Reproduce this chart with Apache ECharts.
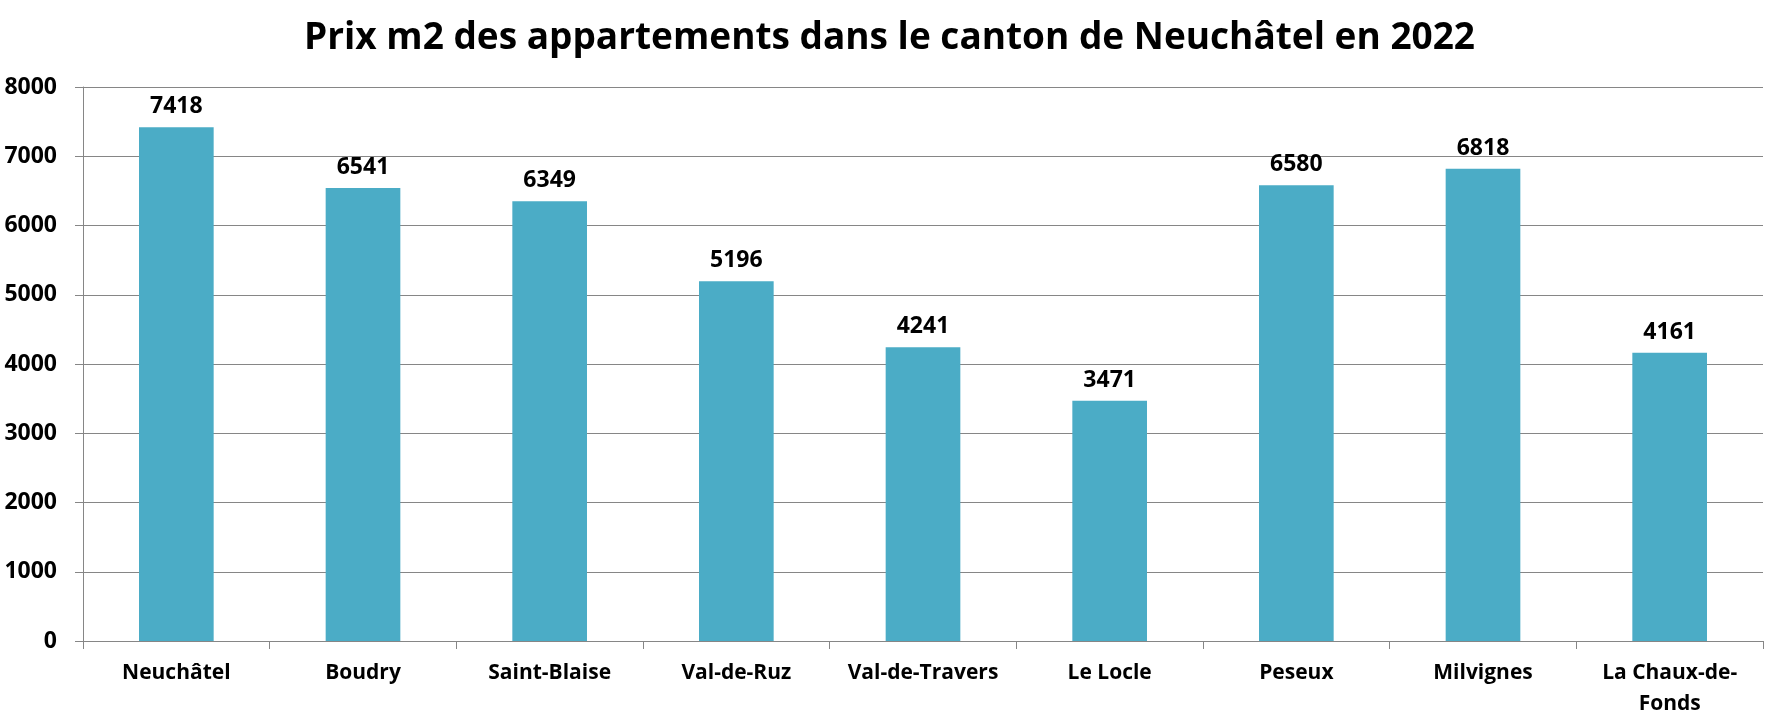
<!DOCTYPE html>
<html><head><meta charset="utf-8">
<script src="https://cdn.jsdelivr.net/npm/echarts@6/dist/echarts.min.js"></script>
<style>html,body{margin:0;padding:0;background:#fff}#c{width:1779px;height:727px}</style>
</head><body><div id="c"></div>
<script>
const titleText = "Prix m2 des appartements dans le canton de Neuchâtel en 2022";
const categories = ["Neuchâtel","Boudry","Saint-Blaise","Val-de-Ruz","Val-de-Travers","Le Locle","Peseux","Milvignes","La Chaux-de-\nFonds"];
const prices = [7418,6541,6349,5196,4241,3471,6580,6818,4161];
const yTicks = [0,1000,2000,3000,4000,5000,6000,7000,8000];

const chart = echarts.init(document.getElementById('c'), null, {renderer:'canvas'});
chart.setOption({
  animation:false,
  backgroundColor:'#ffffff',
  title:{text:titleText,left:'center',top:15,textStyle:{fontFamily:'Open Sans',fontWeight:700,fontSize:37,color:'#000'}},
  grid:{left:83,right:16,top:87,bottom:86,containLabel:false},
  xAxis:{type:'category',data:categories,
    axisLine:{lineStyle:{color:'#868686',width:1}},
    axisTick:{show:true,length:8,alignWithLabel:false,lineStyle:{color:'#868686'}},
    axisLabel:{interval:0,margin:17,fontFamily:'Open Sans',fontWeight:700,fontSize:21,lineHeight:31,color:'#000'}},
  yAxis:{type:'value',min:yTicks[0],max:yTicks[yTicks.length-1],interval:1000,
    axisLine:{show:true,lineStyle:{color:'#868686'}},
    axisTick:{show:true,length:8,lineStyle:{color:'#868686'}},
    splitLine:{show:true,lineStyle:{color:'#868686',width:1}},
    axisLabel:{margin:26,fontFamily:'Open Sans',fontWeight:700,fontSize:23,color:'#000',formatter:function(v){return String(v);}}},
  series:[{type:'bar',data:prices,barWidth:'40%',itemStyle:{color:'#4BACC6'},
    label:{show:true,position:'top',distance:9,fontFamily:'Open Sans',fontWeight:700,fontSize:23,color:'#000'}}]
});
</script></body></html>
